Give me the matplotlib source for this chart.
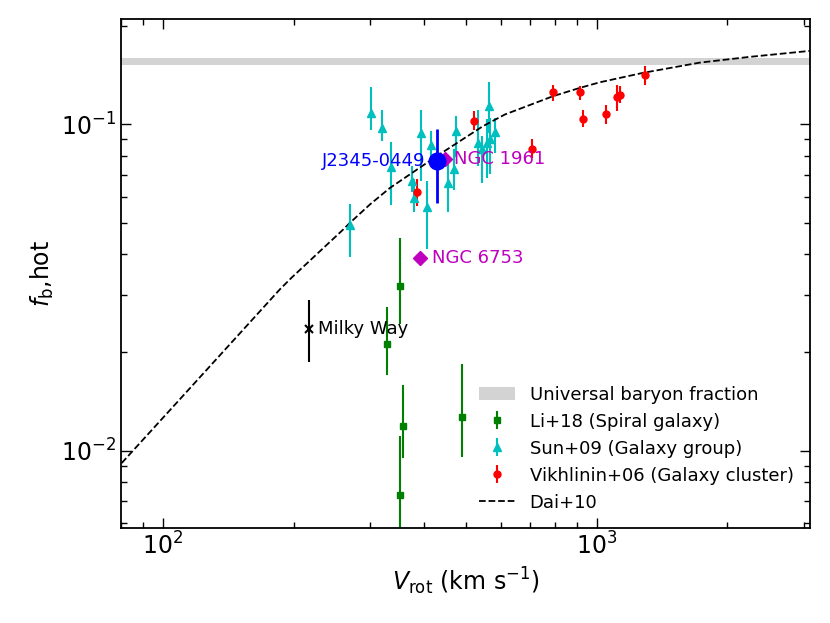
import numpy as np
import matplotlib
matplotlib.use('Agg')
import matplotlib.pyplot as plt

# Li+18 (spiral galaxies)
li_v = [351.6, 328.7, 356.7, 487.9, 351.6]
li_f = [0.0320, 0.0213, 0.01193, 0.01265, 0.00733]
li_lo = [0.0244, 0.0170, 0.00951, 0.00954, 0.0047]
li_hi = [0.0449, 0.0276, 0.0159, 0.0184, 0.01111]

# Sun+09 (galaxy groups)
sun_v = [301.0, 319.0, 335.2, 269.7, 374.1, 379.0, 392.5, 406.9, 414.6, 454.4,
         473.3, 469.0, 563.1, 582.1, 557.2, 544.3, 567.0, 532.9]
sun_f = [0.1084, 0.0975, 0.0737, 0.0491, 0.0669, 0.0596, 0.0941, 0.0558, 0.0863, 0.0662,
         0.0952, 0.0727, 0.1141, 0.0945, 0.0877, 0.0837, 0.0898, 0.0877]
sun_lo = [0.0963, 0.0887, 0.0564, 0.0392, 0.0622, 0.0537, 0.0669, 0.0414, 0.0780, 0.0537,
          0.0791, 0.0631, 0.0941, 0.0818, 0.0686, 0.0662, 0.0702, 0.0744]
sun_hi = [0.1298, 0.1109, 0.0882, 0.0571, 0.0744, 0.0678, 0.1109, 0.0669, 0.0952, 0.0764,
          0.1058, 0.0837, 0.1344, 0.1048, 0.1034, 0.0919, 0.1048, 0.1109]

# Vikhlinin+06 (galaxy clusters)
vik_v = [384.2, 522.2, 710.2, 793.1, 913.7, 929.9, 1048.9, 1110.0, 1130.0, 1290.0]
vik_f = [0.0622, 0.1021, 0.0837, 0.1254, 0.1254, 0.1041, 0.1076, 0.1213, 0.1233, 0.1419]
vik_lo = [0.0561, 0.0963, 0.0790, 0.1176, 0.1184, 0.0979, 0.1003, 0.1096, 0.1163, 0.1323]
vik_hi = [0.0678, 0.1096, 0.0898, 0.1323, 0.1313, 0.1109, 0.1149, 0.1323, 0.1313, 0.1512]

# Dai+10 curve
dai_v = [80.3, 109.4, 186.0, 197.9, 259.8, 269.7, 299.9, 333.4, 427.2, 546.1, 613.8,
         791.7, 913.7, 1016, 1276, 1727, 2252, 3097]
dai_f = [0.00917, 0.01439, 0.03123, 0.0339, 0.0475, 0.0499, 0.0568, 0.0638, 0.0798, 0.0986,
         0.1071, 0.1218, 0.1292, 0.1344, 0.1436, 0.1544, 0.1608, 0.1677]

# single objects
mw_v, mw_f, mw_lo, mw_hi = 217.3, 0.0236, 0.0187, 0.0289
j_v, j_f, j_lo, j_hi = 429.1, 0.0773, 0.0572, 0.0968
n1961_v, n1961_f = 446.5, 0.0784
n6753_v, n6753_f = 391.0, 0.0390

fb_univ = (0.152, 0.160)


def yerr(f, lo, hi):
    f, lo, hi = np.array(f), np.array(lo), np.array(hi)
    return [f - lo, hi - f]


fig = plt.figure(figsize=(8.3, 6.23), dpi=100)
ax = fig.add_axes([0.1458, 0.1525, 0.8301, 0.817])

band = ax.axhspan(fb_univ[0], fb_univ[1], color='lightgrey', lw=0,
                  label='Universal baryon fraction')
li = ax.errorbar(li_v, li_f, yerr=yerr(li_f, li_lo, li_hi), fmt='s', color='g',
                 ms=5, elinewidth=1.5, label='Li+18 (Spiral galaxy)')
sun = ax.errorbar(sun_v, sun_f, yerr=yerr(sun_f, sun_lo, sun_hi), fmt='^', color='c',
                  ms=6, elinewidth=1.5, label='Sun+09 (Galaxy group)')
vik = ax.errorbar(vik_v, vik_f, yerr=yerr(vik_f, vik_lo, vik_hi), fmt='o', color='r',
                  ms=5, elinewidth=1.5, label='Vikhlinin+06 (Galaxy cluster)')
dai, = ax.plot(dai_v, dai_f, 'k--', lw=1.3, label='Dai+10')

ax.errorbar([mw_v], [mw_f], yerr=yerr([mw_f], [mw_lo], [mw_hi]), fmt='x', color='k',
            ms=6, mew=1.5, elinewidth=1.5)
ax.annotate('Milky Way', (mw_v, mw_f), xytext=(6.5, 0), textcoords='offset points',
            ha='left', va='center', fontsize=13)

ax.plot([n1961_v], [n1961_f], 'mD', ms=7)
ax.annotate('NGC 1961', (n1961_v, n1961_f), xytext=(6.5, 0), textcoords='offset points',
            ha='left', va='center', fontsize=13, color='m')
ax.plot([n6753_v], [n6753_f], 'mD', ms=7)
ax.annotate('NGC 6753', (n6753_v, n6753_f), xytext=(9, 0), textcoords='offset points',
            ha='left', va='center', fontsize=13, color='m')

ax.errorbar([j_v], [j_f], yerr=yerr([j_f], [j_lo], [j_hi]), fmt='o', color='b',
            ms=12, elinewidth=2)
ax.annotate('J2345-0449', (j_v, j_f), xytext=(-8.5, 0), textcoords='offset points',
            ha='right', va='center', fontsize=13, color='b')

ax.set_xscale('log')
ax.set_yscale('log')
ax.set_xlim(80, 3100)
ax.set_ylim(0.0058, 0.21)
ax.set_xlabel(r'$V_{\rm rot}$ (km s$^{-1}$)', fontsize=17)
ax.set_ylabel(r'$f_{\rm b}$,hot', fontsize=17)
ax.tick_params(which='both', direction='in', top=True, right=True, labelsize=17)
ax.tick_params(which='major', length=7, width=1)
ax.tick_params(which='minor', length=4, width=1)
for s in ax.spines.values():
    s.set_linewidth(1.3)

ax.legend(handles=[band, li, sun, vik, dai], loc='lower right', frameon=False,
          fontsize=13)

fig.savefig('out.png', dpi=100)
